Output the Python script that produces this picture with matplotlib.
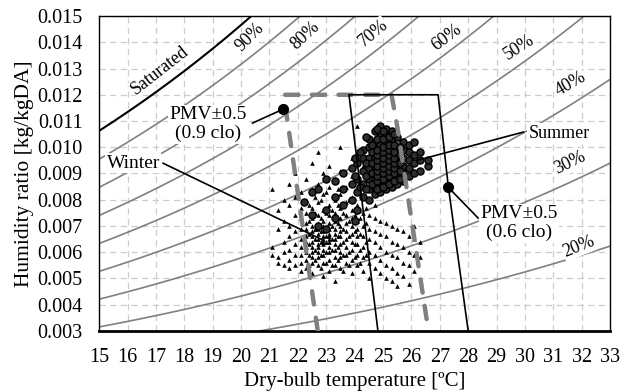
import numpy as np
import matplotlib.pyplot as plt

plt.rcParams['font.family'] = ['Liberation Serif', 'DejaVu Serif']

# axis ticks
x_ticks = list(range(15, 34))
y_ticks = [0.003, 0.004, 0.005, 0.006, 0.007, 0.008, 0.009,
           0.010, 0.011, 0.012, 0.013, 0.014, 0.015]

# relative humidity curves and their labels
rh_levels = [0.2, 0.3, 0.4, 0.5, 0.6, 0.7, 0.8, 0.9]
rh_labels = ['20%', '30%', '40%', '50%', '60%', '70%', '80%', '90%']
rh_label_t = [31.9, 31.6, 31.6, 29.8, 27.25, 24.65, 22.25, 20.3]
rh_label_w = [0.0062, 0.0094, 0.0124, 0.0138, 0.0142, 0.01435, 0.01427, 0.0142]
rh_label_rot = [22, 26, 30, 33, 37, 40, 43, 45]

# comfort zones (PMV +-0.5)
zone_09_t = [22.7, 21.5, 25.3, 25.5, 26.6]
zone_09_w = [0.003, 0.012, 0.012, 0.0108, 0.003]
zone_06_t = [24.82, 23.8, 26.94, 27.3, 28.0]
zone_06_w = [0.003, 0.012, 0.012, 0.0085, 0.003]

# winter measurements: temperature columns and humidity ratio (x1e-3)
winter_t = [21.1, 21.3, 21.5, 21.7, 21.9, 22.1, 22.3, 22.5, 22.7, 22.9,
            23.1, 23.3, 23.5, 23.7, 23.9, 24.1, 24.3, 24.5, 24.7, 24.9,
            25.1, 25.3, 25.5, 25.7, 25.9, 26.1, 26.3,
            22.4, 22.6, 22.8, 23.0, 23.2, 23.4, 23.6, 23.8, 24.0, 24.2, 24.4]
winter_w = [
    [5.9, 6.2, 8.4],
    [5.6, 5.8, 6.9, 7.6],
    [5.5, 6.0, 6.4, 7.2, 8.0],
    [5.4, 5.7, 6.1, 6.6, 7.0, 7.8, 8.6],
    [5.5, 5.9, 6.3, 6.8, 7.4, 8.1, 9.0],
    [5.3, 5.6, 5.9, 6.2, 6.5, 6.9, 7.3, 7.7, 8.3],
    [5.4, 5.7, 6.0, 6.2, 6.4, 6.6, 6.9, 7.1, 7.5, 8.0, 8.8],
    [5.2, 5.6, 5.8, 6.0, 6.2, 6.4, 6.6, 6.8, 7.0, 7.3, 7.7, 8.4, 9.4],
    [5.5, 5.8, 6.0, 6.2, 6.3, 6.5, 6.7, 6.9, 7.1, 7.4, 7.9, 8.6, 9.8],
    [5.1, 5.6, 5.9, 6.1, 6.3, 6.4, 6.5, 6.6, 6.8, 7.0, 7.2, 7.6, 8.2, 9.0],
    [5.3, 5.7, 6.0, 6.2, 6.4, 6.5, 6.6, 6.7, 6.9, 7.1, 7.4, 7.8, 8.5, 9.3],
    [4.9, 5.5, 5.8, 6.1, 6.3, 6.5, 6.7, 6.9, 7.2, 7.5, 8.0, 8.8],
    [5.4, 5.8, 6.0, 6.3, 6.6, 6.8, 7.0, 7.3, 7.7, 8.2, 9.1, 10.0],
    [5.6, 5.9, 6.2, 6.5, 6.8, 7.1, 7.4, 7.9, 8.5],
    [5.2, 5.7, 6.1, 6.4, 6.7, 7.0, 7.3, 7.6, 8.1, 8.9, 9.6],
    [5.5, 5.9, 6.3, 6.6, 6.9, 7.2, 7.8, 8.4, 10.8],
    [5.3, 5.8, 6.2, 6.6, 7.0, 7.5, 8.2, 9.3],
    [5.0, 5.6, 6.0, 6.5, 6.9, 7.4, 8.0],
    [5.4, 5.9, 6.4, 6.8, 7.3, 7.8],
    [5.2, 5.7, 6.2, 6.7, 7.2],
    [5.0, 5.5, 6.0, 6.6, 7.1],
    [4.9, 5.4, 5.9, 6.4, 7.0],
    [4.7, 5.2, 5.8, 6.3, 6.9],
    [5.1, 5.6, 6.2, 6.8],
    [4.8, 5.5, 6.0, 6.6],
    [5.3, 5.9, 6.5, 7.0],
    [5.8, 6.4],
    [5.5, 5.9, 6.3, 6.7, 7.2, 7.8],
    [5.7, 6.1, 6.5, 6.9, 7.5, 8.1],
    [5.4, 5.9, 6.4, 6.8, 7.3, 8.0],
    [5.6, 6.0, 6.4, 6.6, 6.9, 7.5, 8.3],
    [5.5, 6.1, 6.5, 7.0, 7.6],
    [5.7, 6.2, 6.6, 7.1, 7.8, 8.4],
    [5.3, 5.9, 6.4, 6.9, 7.5],
    [5.5, 6.0, 6.6, 7.2, 8.0],
    [5.8, 6.3, 6.8, 7.4],
    [5.6, 6.1, 6.7, 7.3, 8.7],
    [5.9, 6.4, 7.1, 7.7],
]

# summer measurements
summer_t = [22.2, 22.5, 22.7, 23.0, 23.3, 23.6, 23.9, 24.1, 24.3, 24.5,
            24.7, 24.9, 25.1, 25.3, 25.5, 25.7, 25.9, 26.1, 26.3, 26.6,
            24.0, 24.2, 24.4, 24.6, 24.8, 25.0, 25.2, 25.4, 25.6]
summer_w = [
    [7.9],
    [7.4, 8.3],
    [7.0, 8.4],
    [6.9, 7.6, 8.8],
    [7.3, 8.1, 8.7],
    [7.8, 8.4, 9.0],
    [8.0, 8.6, 9.2],
    [7.6, 8.3, 8.8, 9.4],
    [8.1, 8.6, 9.1, 9.6, 9.9],
    [8.0, 8.4, 8.8, 9.2, 9.6, 10.0, 10.3],
    [8.2, 8.5, 8.8, 9.0, 9.3, 9.6, 9.9, 10.2, 10.6],
    [8.3, 8.6, 8.8, 9.0, 9.2, 9.4, 9.6, 9.8, 10.1, 10.4, 10.8],
    [8.4, 8.7, 8.9, 9.1, 9.3, 9.5, 9.7, 9.9, 10.2, 10.5, 10.7],
    [8.5, 8.8, 9.0, 9.2, 9.4, 9.6, 9.8, 10.0, 10.3, 10.6],
    [8.6, 8.9, 9.1, 9.3, 9.5, 9.7, 10.0, 10.4],
    [8.7, 9.0, 9.3, 9.6, 9.9, 10.2],
    [8.9, 9.2, 9.5, 9.8, 10.1],
    [9.0, 9.4, 9.7, 10.2],
    [9.1, 9.5, 9.8],
    [9.3, 9.5],
    [7.2, 8.9, 9.6],
    [8.5, 9.8],
    [8.4, 8.9, 9.4, 10.4],
    [8.6, 9.0, 9.4, 9.8, 10.1],
    [8.4, 8.7, 8.9, 9.1, 9.3, 9.5, 9.7, 9.9, 10.3, 10.7],
    [8.5, 8.8, 9.0, 9.2, 9.4, 9.6, 9.8, 10.0, 10.3, 10.6],
    [8.6, 8.9, 9.1, 9.3, 9.5, 9.7, 9.9, 10.1, 10.4],
    [8.7, 9.0, 9.2, 9.4, 9.6, 9.8, 10.1, 10.5],
    [8.8, 9.1, 9.4, 9.7, 10.0],
]


def expand(temps, cols):
    xs, ys = [], []
    for t, ws in zip(temps, cols):
        for w in ws:
            xs.append(t)
            ys.append(w / 1000.0)
    return xs, ys


def humidity_ratio(t, rh):
    """Humidity ratio at 101.325 kPa."""
    ps = 0.61094 * np.exp(17.625 * t / (t + 243.04))
    pv = rh * ps
    return 0.622 * pv / (101.325 - pv)


fig = plt.figure(figsize=(6.2, 3.92), dpi=100)
ax = fig.add_axes([0.160, 0.156, 0.824, 0.803])

ax.set_xlim(15, 33)
ax.set_ylim(0.003, 0.015)
ax.set_xticks(x_ticks)
ax.set_yticks(y_ticks)
ax.set_yticklabels([f'{v:.3f}' for v in y_ticks])
ax.tick_params(length=0, labelsize=14.5)
ax.tick_params(axis='y', pad=12)
ax.tick_params(axis='x', pad=12)
ax.grid(True, color='#cccccc', linestyle=(0, (5, 3.5)), linewidth=0.9, zorder=0)
ax.set_axisbelow(True)
for s in ['top', 'right', 'left']:
    ax.spines[s].set_linewidth(1.0)
ax.spines['bottom'].set_linewidth(2.0)

t_line = np.linspace(15, 33, 37)
for rh in rh_levels:
    ax.plot(t_line, humidity_ratio(t_line, rh), color='#808080', lw=1.2, zorder=2)
ax.plot(t_line, humidity_ratio(t_line, 1.0), color='black', lw=1.5, zorder=2)

for lab, t, w, r in zip(rh_labels, rh_label_t, rh_label_w, rh_label_rot):
    ax.text(t, w, lab, fontsize=13, rotation=r, ha='center', va='center', zorder=6,
            bbox=dict(facecolor='white', edgecolor='none', pad=0.5))
ax.text(17.15, 0.01294, 'Saturated', fontsize=13, rotation=38, ha='center', va='center',
        zorder=6, bbox=dict(facecolor='white', edgecolor='none', pad=0.5))

wx, wy = expand(winter_t, winter_w)
sx, sy = expand(summer_t, summer_w)
ax.scatter(wx, wy, marker='^', s=11, color='black', linewidths=0, zorder=3)
ax.scatter(sx, sy, marker='o', s=26, facecolor='#2e2e2e', edgecolor='black',
           linewidths=1.0, zorder=3)

ax.plot(zone_09_t, zone_09_w, color='#808080', lw=3.2, dashes=(3, 3),
        dash_capstyle='round', solid_capstyle='round', zorder=4)
ax.plot(zone_06_t, zone_06_w, color='black', lw=1.2, zorder=4)

# annotations
box = dict(facecolor='white', edgecolor='none', pad=1)
ax.plot([21.48, 20.4], [0.01145, 0.01092], color='black', lw=1.2, zorder=5)
ax.plot(21.48, 0.01145, 'o', color='black', ms=7, zorder=5)
ax.text(18.85, 0.01088, 'PMV\u00b10.5\n(0.9 clo)', fontsize=14, ha='center', va='center',
        linespacing=1.15, zorder=6, bbox=box)

ax.plot([27.3, 28.35], [0.00847, 0.0073], color='black', lw=1.2, zorder=5)
ax.plot(27.3, 0.00847, 'o', color='black', ms=7, zorder=5)
ax.text(29.8, 0.0071, 'PMV\u00b10.5\n(0.6 clo)', fontsize=14, ha='center', va='center',
        linespacing=1.15, zorder=6, bbox=box)

ax.plot([29.95, 26.2], [0.01058, 0.0095], color='black', lw=1.2, zorder=5)
ax.text(31.2, 0.01053, 'Summer', fontsize=13, ha='center', va='center', zorder=6, bbox=box)

ax.plot([17.25, 22.9], [0.00939, 0.00645], color='black', lw=1.2, zorder=5)
ax.text(16.2, 0.00939, 'Winter', fontsize=14, ha='center', va='center', zorder=6, bbox=box)

ax.set_xlabel('Dry-bulb temperature [ºC]', fontsize=15, labelpad=4)
ax.set_ylabel('Humidity ratio [kg/kgDA]', fontsize=15.5, labelpad=2)

fig.savefig('out.png', dpi=100)
